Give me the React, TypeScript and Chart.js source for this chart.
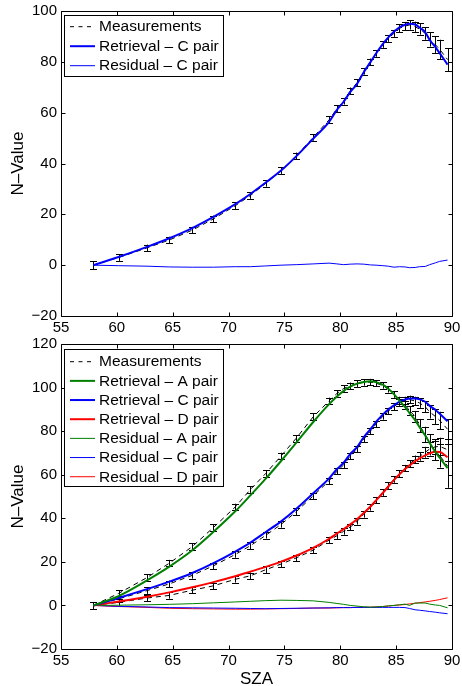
import React, { useEffect, useRef } from "react";
import { Chart, registerables } from "chart.js";

Chart.register(...registerables);

// ---------------- data ----------------
const SZA = [57.9, 60.15, 62.7, 64.7, 66.75, 68.65, 70.6, 71.95, 73.33, 74.7, 76.05, 77.58, 79.0, 79.7, 80.3, 80.9, 81.5, 82.1, 82.7, 83.2, 83.8, 84.3, 84.8, 85.3, 85.8, 86.2, 86.7, 87.1, 87.6, 88.0, 88.5, 88.9, 89.6];

const X_TICKS = [55, 60, 65, 70, 75, 80, 85, 90];
const Y_TICKS_TOP = [-20, 0, 20, 40, 60, 80, 100];
const Y_TICKS_BOTTOM = [-20, 0, 20, 40, 60, 80, 100, 120];

// top panel (C pair only)
const measC = [0, 3.0, 6.8, 9.9, 13.8, 18.2, 23.4, 27.4, 32.2, 37.2, 43.0, 50.3, 57.2, 61.6, 64.5, 68.6, 71.8, 76.3, 80.0, 83.3, 86.8, 89.2, 91.2, 93.2, 94.1, 94.5, 93.8, 92.9, 91.2, 88.8, 86.8, 84.9, 80.9];
const errCTop = [1.5, 1.3, 1.3, 1.3, 1.3, 1.3, 1.3, 1.3, 1.3, 1.3, 1.3, 1.3, 1.3, 1.3, 1.3, 1.3, 1.3, 1.3, 1.3, 1.3, 1.3, 1.3, 1.4, 1.5, 1.6, 1.8, 2.0, 2.2, 2.5, 2.8, 3.3, 3.8, 4.5];
const retrCTop = [0, 3.2, 7.2, 10.6, 14.6, 19.0, 24.0, 28.0, 32.5, 37.2, 42.8, 49.8, 56.4, 61.1, 64.3, 68.2, 71.3, 75.9, 79.9, 83.3, 87.0, 89.6, 91.8, 93.6, 94.6, 95.0, 94.7, 93.5, 91.7, 88.6, 85.9, 83.4, 78.9];
const resCTop = [0, -0.2, -0.4, -0.7, -0.8, -0.8, -0.6, -0.6, -0.3, 0, 0.2, 0.5, 0.8, 0.5, 0.2, 0.4, 0.5, 0.4, 0.1, 0, -0.2, -0.4, -0.8, -0.6, -0.7, -1.0, -0.9, -0.6, -0.5, 0.2, 0.9, 1.5, 2.0];

// bottom panel (A, C, D pairs)
const measA = [0, 5.5, 12.8, 19.4, 27.0, 35.8, 45.2, 53.2, 60.6, 68.6, 76.7, 86.6, 93.9, 97.3, 99.6, 100.8, 101.8, 102.4, 102.5, 102.0, 101.0, 99.2, 96.8, 94.2, 92.0, 89.4, 86.8, 82.6, 78.5, 74.6, 71.2, 68.8, 64.0];
const errA = [1.5, 1.5, 1.5, 1.5, 1.5, 1.5, 1.5, 1.5, 1.5, 1.5, 1.5, 1.5, 1.5, 1.5, 1.5, 1.5, 1.5, 1.5, 1.5, 1.5, 1.5, 1.5, 1.5, 1.6, 1.8, 2.0, 2.5, 3.0, 3.5, 4.0, 4.5, 5.5, 10.0];
const retrA = [0, 4.3, 11.5, 17.8, 25.3, 33.8, 43.2, 50.5, 58.2, 66.3, 74.6, 84.2, 92.4, 95.9, 98.5, 100.4, 101.8, 102.6, 102.9, 102.5, 101.3, 99.5, 97.0, 94.0, 91.0, 88.3, 85.0, 81.8, 78.0, 74.6, 70.6, 67.8, 63.0];
const resA = [0, 0.1, 0.3, 0.5, 0.8, 1.2, 1.6, 1.9, 2.2, 2.4, 2.3, 2.1, 1.4, 0.9, 0.5, 0, -0.3, -0.6, -0.8, -0.7, -0.5, -0.2, 0, 0.3, 0.6, 0, 1.1, 1.1, 1.1, 0.6, 0.2, 0, -1.1];

const errCBottom = [1.5, 1.5, 1.5, 1.5, 1.5, 1.5, 1.5, 1.5, 1.5, 1.5, 1.5, 1.5, 1.5, 1.5, 1.5, 1.5, 1.5, 1.5, 1.5, 1.5, 1.5, 1.5, 1.5, 1.6, 1.7, 1.8, 2.0, 2.2, 2.5, 3.0, 3.5, 4.0, 4.5];
const retrCBottom = [0, 3.4, 7.5, 10.9, 14.9, 19.4, 24.7, 28.8, 33.7, 38.6, 44.3, 51.5, 58.3, 62.6, 65.5, 69.6, 72.7, 77.2, 80.9, 84.2, 87.6, 89.9, 91.8, 93.5, 94.5, 95.0, 95.0, 94.6, 93.5, 91.6, 89.8, 88.0, 84.5];
const resCBottom = [0, -0.4, -0.7, -1.0, -1.1, -1.2, -1.3, -1.4, -1.5, -1.4, -1.3, -1.2, -1.1, -1.0, -1.0, -1.0, -0.9, -0.9, -0.9, -0.9, -0.9, -0.9, -0.9, -0.9, -1.0, -1.4, -2.0, -2.2, -2.5, -2.8, -3.1, -3.4, -3.8];

const measD = [0, 1.4, 3.4, 4.6, 7.0, 9.0, 12.0, 13.6, 16.4, 19.0, 21.8, 25.4, 30.0, 32.0, 34.0, 36.0, 38.6, 41.8, 45.0, 48.3, 51.8, 55.0, 57.8, 60.5, 63.0, 65.0, 67.0, 68.4, 70.3, 71.8, 72.8, 73.0, 71.5];
const errD = [1.5, 1.5, 1.5, 1.5, 1.5, 1.5, 1.5, 1.5, 1.5, 1.5, 1.5, 1.5, 1.5, 1.5, 1.5, 1.5, 1.5, 1.5, 1.5, 1.5, 1.5, 1.5, 1.5, 1.5, 1.5, 1.6, 1.8, 2.0, 2.5, 3.0, 3.5, 4.0, 5.0];
const retrD = [0, 1.8, 4.0, 6.0, 8.3, 10.7, 13.4, 15.5, 17.7, 20.1, 22.8, 26.4, 30.6, 33.0, 35.0, 37.2, 39.6, 42.4, 45.4, 48.2, 51.6, 54.6, 57.5, 60.2, 62.6, 64.3, 66.2, 67.5, 68.9, 69.8, 70.5, 70.4, 68.0];
const resD = [0, -0.5, -0.9, -1.3, -1.5, -1.6, -1.7, -1.7, -1.6, -1.5, -1.4, -1.2, -1.2, -1.1, -1.0, -1.0, -0.9, -0.9, -0.8, -0.7, -0.5, -0.3, 0, 0.2, 0.4, 0.7, 1.0, 1.3, 1.6, 1.9, 2.3, 2.7, 3.5];

const LEGEND_TOP = ["Measurements", "Retrieval \u2013 C pair", "Residual \u2013 C pair"];
const LEGEND_BOTTOM = [
  "Measurements",
  "Retrieval \u2013 A pair",
  "Retrieval \u2013 C pair",
  "Retrieval \u2013 D pair",
  "Residual \u2013 A pair",
  "Residual \u2013 C pair",
  "Residual \u2013 D pair",
];

// ---------------- styling ----------------
const FONT = '"Liberation Sans", Arial, Helvetica, sans-serif';
const BLUE = "#0000ff";
const GREEN = "#008000";
const RED = "#ff0000";

const pts = (ys: number[]) => SZA.map((x, i) => ({ x, y: ys[i] }));

const measDs = (ys: number[], errs: number[]) => ({
  data: pts(ys),
  errors: errs,
  borderColor: "#000",
  borderWidth: 1,
  borderDash: [5, 4],
  pointRadius: 0,
  tension: 0,
  order: 3,
});
const retrDs = (ys: number[], color: string) => ({
  data: pts(ys),
  borderColor: color,
  borderWidth: 2,
  pointRadius: 0,
  cubicInterpolationMode: "monotone",
  order: 1,
});
const resDs = (ys: number[], color: string) => ({
  data: pts(ys),
  borderColor: color,
  borderWidth: 1,
  pointRadius: 0,
  tension: 0,
  order: 2,
});

const matlabPlugin = {
  id: "matlab",
  beforeDatasetsDraw(chart: any) {
    const ctx = chart.ctx;
    const xs = chart.scales.x;
    const ys = chart.scales.y;
    ctx.save();
    ctx.strokeStyle = "#000";
    ctx.lineWidth = 1;
    chart.data.datasets.forEach((ds: any) => {
      if (!ds.errors) return;
      ds.data.forEach((p: any, j: number) => {
        const e = ds.errors[j];
        const px = Math.round(xs.getPixelForValue(p.x)) + 0.5;
        const t = ys.getPixelForValue(p.y + e);
        const b = ys.getPixelForValue(p.y - e);
        ctx.beginPath();
        ctx.moveTo(px, t);
        ctx.lineTo(px, b);
        ctx.moveTo(px - 3.5, Math.round(t) + 0.5);
        ctx.lineTo(px + 3.5, Math.round(t) + 0.5);
        ctx.moveTo(px - 3.5, Math.round(b) + 0.5);
        ctx.lineTo(px + 3.5, Math.round(b) + 0.5);
        ctx.stroke();
      });
    });
    ctx.restore();
  },
  afterDraw(chart: any, _args: any, opts: any) {
    const ctx = chart.ctx;
    const { left, right, top, bottom } = chart.chartArea;
    const xs = chart.scales.x;
    const ys = chart.scales.y;
    const L = Math.round(left) + 0.5;
    const R = Math.round(right) + 0.5;
    const T = Math.round(top) + 0.5;
    const B = Math.round(bottom) + 0.5;
    ctx.save();
    ctx.strokeStyle = "#000";
    ctx.lineWidth = 1;
    ctx.beginPath();
    ctx.rect(L, T, R - L, B - T);
    ctx.stroke();
    const tl = 4;
    ctx.beginPath();
    xs.ticks.forEach((t: any) => {
      const px = Math.round(xs.getPixelForValue(t.value)) + 0.5;
      ctx.moveTo(px, B);
      ctx.lineTo(px, B - tl);
      ctx.moveTo(px, T);
      ctx.lineTo(px, T + tl);
    });
    ys.ticks.forEach((t: any) => {
      const py = Math.round(ys.getPixelForValue(t.value)) + 0.5;
      ctx.moveTo(L, py);
      ctx.lineTo(L + tl, py);
      ctx.moveTo(R, py);
      ctx.lineTo(R - tl, py);
    });
    ctx.stroke();

    // legend
    const lg = opts.legend;
    if (lg) {
      ctx.fillStyle = "#fff";
      ctx.fillRect(lg.x, lg.y, lg.w, lg.h);
      ctx.strokeStyle = "#000";
      ctx.lineWidth = 1;
      ctx.strokeRect(lg.x + 0.5, lg.y + 0.5, lg.w, lg.h);
      ctx.font = `15.5px ${FONT}`;
      ctx.textBaseline = "middle";
      ctx.textAlign = "left";
      lg.items.forEach((it: any, i: number) => {
        const y = lg.y0 + i * lg.step;
        ctx.beginPath();
        ctx.strokeStyle = it.color;
        ctx.lineWidth = it.width;
        ctx.setLineDash(it.dash || []);
        ctx.moveTo(lg.x + 6, y);
        ctx.lineTo(lg.x + 31, y);
        ctx.stroke();
        ctx.setLineDash([]);
        ctx.fillStyle = "#000";
        ctx.fillText(it.label, lg.x + 35, y + 0.5);
      });
    }
    ctx.restore();
  },
};

function buildOptions(o: {
  yMin: number;
  yMax: number;
  yTicks: number[];
  xHeight: number;
  padTop: number;
  xTitle: boolean;
  legend: any;
}) {
  const tickFont = { family: FONT, size: 15 };
  return {
    responsive: false,
    animation: false,
    events: [],
    layout: { padding: { left: 0, right: 10, top: o.padTop, bottom: 0 } },
    plugins: {
      legend: { display: false },
      tooltip: { enabled: false },
      matlab: { legend: o.legend },
    },
    scales: {
      x: {
        type: "linear",
        min: X_TICKS[0],
        max: X_TICKS[X_TICKS.length - 1],
        grid: { display: false, drawTicks: false },
        border: { display: false },
        afterBuildTicks: (s: any) => {
          s.ticks = X_TICKS.map((v) => ({ value: v }));
        },
        ticks: {
          autoSkip: false,
          maxRotation: 0,
          padding: 3,
          color: "#000",
          font: tickFont,
          callback: (v: any) => String(v),
        },
        title: {
          display: o.xTitle,
          text: "SZA",
          color: "#000",
          font: { family: FONT, size: 17, lineHeight: 0.82 },
          padding: { top: 0, bottom: 0 },
        },
        afterFit: (s: any) => {
          s.height = o.xHeight;
          s.paddingLeft = 0;
          s.paddingRight = 0;
        },
      },
      y: {
        type: "linear",
        min: o.yMin,
        max: o.yMax,
        grid: { display: false, drawTicks: false },
        border: { display: false },
        afterBuildTicks: (s: any) => {
          s.ticks = o.yTicks.map((v) => ({ value: v }));
        },
        ticks: {
          padding: 4,
          color: "#000",
          font: tickFont,
          callback: (v: any) => String(v).replace("-", "\u2212"),
        },
        title: {
          display: true,
          text: "N\u2013Value",
          color: "#000",
          font: { family: FONT, size: 17 },
          padding: { top: 8, bottom: 0 },
        },
        afterFit: (s: any) => {
          s.width = 61;
          s.paddingTop = 0;
          s.paddingBottom = 0;
        },
      },
    },
  };
}

export default function App() {
  const topRef = useRef<HTMLCanvasElement | null>(null);
  const botRef = useRef<HTMLCanvasElement | null>(null);

  useEffect(() => {
    const top = new Chart(topRef.current as HTMLCanvasElement, {
      type: "line",
      data: {
        datasets: [
          measDs(measC, errCTop),
          retrDs(retrCTop, BLUE),
          resDs(resCTop, BLUE),
        ] as any,
      },
      options: buildOptions({
        yMin: -20,
        yMax: 100,
        yTicks: Y_TICKS_TOP,
        xHeight: 20,
        padTop: 11,
        xTitle: false,
        legend: {
          x: 64,
          y: 15,
          w: 159,
          h: 61,
          y0: 26.7,
          step: 19.5,
          items: [
            { label: LEGEND_TOP[0], color: "#000", width: 1, dash: [4, 4.5] },
            { label: LEGEND_TOP[1], color: BLUE, width: 2 },
            { label: LEGEND_TOP[2], color: BLUE, width: 1 },
          ],
        },
      }) as any,
      plugins: [matlabPlugin],
    });

    const bot = new Chart(botRef.current as HTMLCanvasElement, {
      type: "line",
      data: {
        datasets: [
          measDs(measA, errA),
          measDs(measC, errCBottom),
          measDs(measD, errD),
          retrDs(retrA, GREEN),
          retrDs(retrCBottom, BLUE),
          retrDs(retrD, RED),
          resDs(resA, GREEN),
          resDs(resCBottom, BLUE),
          resDs(resD, RED),
        ] as any,
      },
      options: buildOptions({
        yMin: -20,
        yMax: 120,
        yTicks: Y_TICKS_BOTTOM,
        xHeight: 37,
        padTop: 8,
        xTitle: true,
        legend: {
          x: 64,
          y: 13,
          w: 159,
          h: 137,
          y0: 25.7,
          step: 19.17,
          items: [
            { label: LEGEND_BOTTOM[0], color: "#000", width: 1, dash: [4, 4.5] },
            { label: LEGEND_BOTTOM[1], color: GREEN, width: 2 },
            { label: LEGEND_BOTTOM[2], color: BLUE, width: 2 },
            { label: LEGEND_BOTTOM[3], color: RED, width: 2 },
            { label: LEGEND_BOTTOM[4], color: GREEN, width: 1 },
            { label: LEGEND_BOTTOM[5], color: BLUE, width: 1 },
            { label: LEGEND_BOTTOM[6], color: RED, width: 1 },
          ],
        },
      }) as any,
      plugins: [matlabPlugin],
    });

    return () => {
      top.destroy();
      bot.destroy();
    };
  }, []);

  return (
    <div
      style={{
        position: "fixed",
        left: 0,
        top: 0,
        width: 462,
        height: 686,
        background: "#fff",
        overflow: "hidden",
      }}
    >
      <canvas
        ref={topRef}
        width={462}
        height={336}
        style={{ position: "absolute", left: 0, top: 0, display: "block" }}
      />
      <canvas
        ref={botRef}
        width={462}
        height={350}
        style={{ position: "absolute", left: 0, top: 336, display: "block" }}
      />
    </div>
  );
}
